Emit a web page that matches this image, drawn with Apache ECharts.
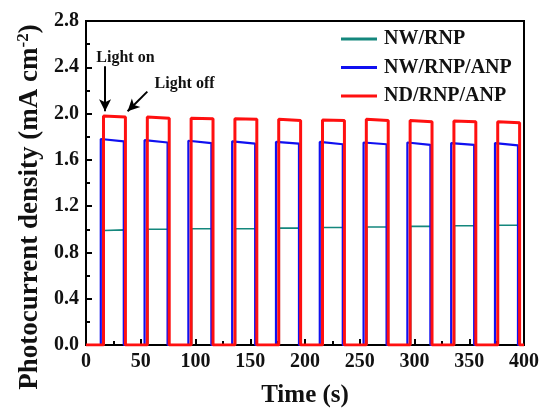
<!DOCTYPE html>
<html><head><meta charset="utf-8">
<script src="https://cdn.jsdelivr.net/npm/echarts@6/dist/echarts.min.js"></script>
<style>html,body{margin:0;padding:0;background:#fff}#c{width:539px;height:409px}</style>
</head><body><div id="c"></div>
<script>
// Pulse timing (s)
const redOn   = [16, 56, 96, 136, 176, 216, 256, 296, 336, 376];
const redOff  = [36, 76, 116, 156, 196, 236, 276, 316, 356, 396];
const blueOn  = [13.5, 53.5, 93.5, 133.5, 173.5, 213.5, 253.5, 293.5, 333.5, 373.5];
const blueOff = [34.5, 74.5, 114.5, 154.5, 194.5, 234.5, 274.5, 314.5, 354.5, 394.5];
const tealOn  = [16.5, 56.5, 96.5, 136.5, 176.5, 216.5, 256.5, 296.5, 336.5, 376.5];
const tealOff = [35, 75, 115, 155, 195, 235, 275, 315, 355, 395];
// Plateau photocurrent values (mA cm^-2): start / end of each light-on period
const redStart  = [1.98, 1.97, 1.96, 1.955, 1.95, 1.945, 1.95, 1.94, 1.935, 1.93];
const redEnd    = [1.97, 1.96, 1.955, 1.95, 1.94, 1.94, 1.94, 1.93, 1.93, 1.92];
const blueStart = [1.78, 1.77, 1.765, 1.76, 1.755, 1.755, 1.75, 1.75, 1.745, 1.745];
const blueEnd   = [1.76, 1.75, 1.745, 1.74, 1.74, 1.735, 1.735, 1.73, 1.73, 1.725];
const tealStart = [0.99, 1.0, 1.005, 1.005, 1.01, 1.015, 1.02, 1.025, 1.03, 1.035];
const tealEnd   = [0.995, 1.0, 1.005, 1.005, 1.01, 1.015, 1.02, 1.025, 1.03, 1.035];
const seriesNames = ['NW/RNP', 'NW/RNP/ANP', 'ND/RNP/ANP'];
const xTicks = [0, 400, 50];
const yTicks = [0, 2.8, 0.4];

function steps(on, off, s, e) {
  const d = [[0, 0]];
  for (let i = 0; i < on.length; i++) {
    d.push([on[i], 0], [on[i], s[i]], [off[i], e[i]], [off[i], 0]);
  }
  d.push([400, 0]);
  return d;
}
const FONT = '"Liberation Serif","Times New Roman",serif';
const chart = echarts.init(document.getElementById('c'));
chart.setOption({
  animation: false,
  backgroundColor: '#fff',
  grid: {left: 86, right: 15, top: 21, bottom: 64, outerBoundsMode: 'none', containLabel: false,
         show: true, borderColor: '#000', borderWidth: 2, backgroundColor: 'transparent'},
  legend: {
    orient: 'vertical', left: 336, top: 24, itemWidth: 36, itemHeight: 3, itemGap: 8.5,
    icon: 'rect',
    textStyle: {fontFamily: FONT, fontWeight: 'bold', fontSize: 20, color: '#111', lineHeight: 18, padding: [0,0,0,2]},
    data: seriesNames
  },
  xAxis: {
    type: 'value', min: xTicks[0], max: xTicks[1], interval: xTicks[2],
    name: 'Time (s)', nameLocation: 'middle', nameGap: 38,
    nameTextStyle: {fontFamily: FONT, fontWeight: 'bold', fontSize: 25, color: '#111'},
    axisLine: {lineStyle: {color: '#000', width: 2}},
    axisTick: {inside: true, length: 6, lineStyle: {color: '#000', width: 2}},
    minorTick: {show: true, splitNumber: 2, length: 4, lineStyle: {color: '#000', width: 2}},
    axisLabel: {fontFamily: FONT, fontWeight: 'bold', fontSize: 20, color: '#111', margin: 7},
    splitLine: {show: false}
  },
  yAxis: {
    type: 'value', min: yTicks[0], max: yTicks[1], interval: yTicks[2],
    name: 'Photocurrent density (mA cm{sup|-2})', nameLocation: 'middle', nameGap: 36, nameRotate: 90,
    nameTextStyle: {fontFamily: FONT, fontWeight: 'bold', fontSize: 27, color: '#111', padding: [0, 48, 0, 0],
      rich: {sup: {fontFamily: FONT, fontWeight: 'bold', fontSize: 17, color: '#111', verticalAlign: 'bottom', padding: [0, 0, 12, 0]}}},
    axisLine: {lineStyle: {color: '#000', width: 2}},
    axisTick: {inside: true, length: 6, lineStyle: {color: '#000', width: 2}},
    minorTick: {show: true, splitNumber: 2, length: 4, lineStyle: {color: '#000', width: 2}},
    axisLabel: {fontFamily: FONT, fontWeight: 'bold', fontSize: 20, color: '#111', margin: 7, formatter: v => v.toFixed(1)},
    splitLine: {show: false}
  },
  series: [
    {name: seriesNames[0], type: 'line', showSymbol: false, symbol: 'none', color: '#14877d',
     lineStyle: {width: 1.6}, data: steps(tealOn, tealOff, tealStart, tealEnd), z: 2},
    {name: seriesNames[1], type: 'line', showSymbol: false, symbol: 'none', color: '#1010f0',
     lineStyle: {width: 2.2}, data: steps(blueOn, blueOff, blueStart, blueEnd), z: 3},
    {name: seriesNames[2], type: 'line', showSymbol: false, symbol: 'none', color: '#ff1010',
     lineStyle: {width: 3}, data: steps(redOn, redOff, redStart, redEnd), z: 4,
     markLine: {
       silent: true, symbol: ['none', 'arrow'], symbolSize: [9, 12],
       lineStyle: {color: '#000', width: 2, type: 'solid'}, label: {show: false},
       data: [
         [{coord: [17.4, 2.41]}, {coord: [17.4, 2.02]}],
         [{coord: [56, 2.19]}, {coord: [38, 2.02]}]
       ]
     },
     markPoint: {
       silent: true, symbol: 'circle', symbolSize: 0,
       label: {show: true, fontFamily: FONT, fontWeight: 'bold', fontSize: 16, color: '#111'},
       data: [
         {coord: [36, 2.48], label: {formatter: 'Light on'}},
         {coord: [90, 2.26], label: {formatter: 'Light off'}}
       ]
     }}
  ]
});
</script></body></html>
